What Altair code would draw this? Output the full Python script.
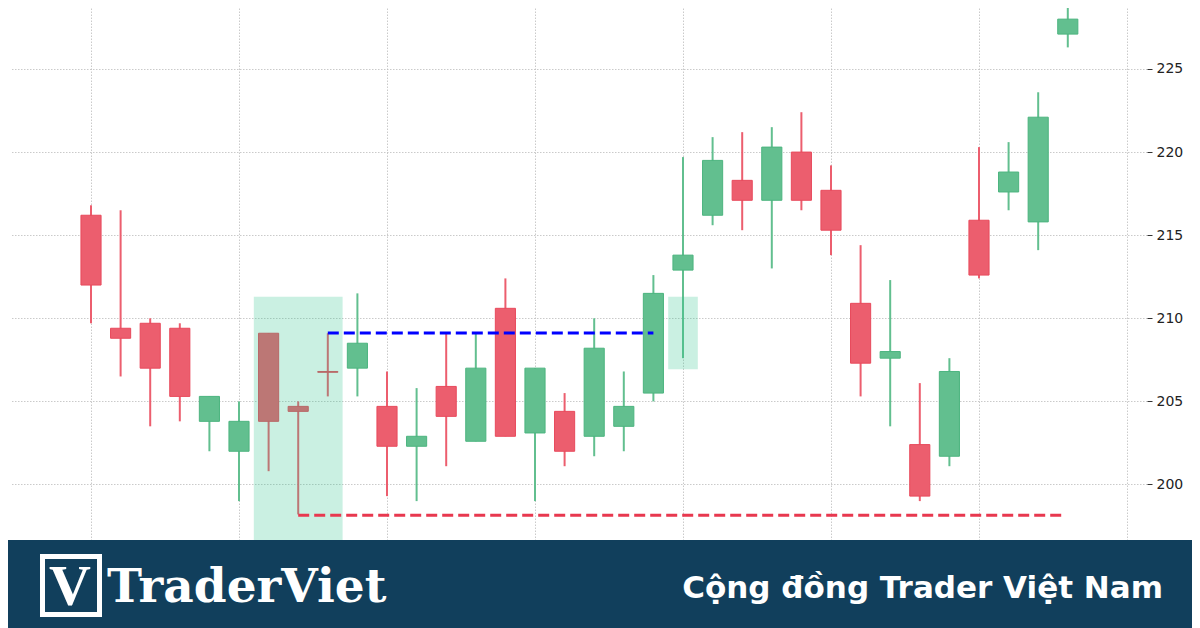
import altair as alt
import pandas as pd

# ---- data ----
idx = list(range(34))
opens = [216.2, 209.4, 209.7, 209.4, 203.8, 202.0, 209.1, 204.7, 206.8, 207.0,
         204.7, 202.3, 205.9, 202.6, 210.6, 203.1, 204.4, 202.9, 203.5, 205.5,
         212.9, 216.2, 218.3, 217.1, 220.0, 217.7, 210.9, 207.6, 202.4, 201.7,
         215.9, 217.6, 215.8, 227.1]
closes = [212.0, 208.8, 207.0, 205.3, 205.3, 203.8, 203.8, 204.4, 206.75, 208.5,
          202.3, 202.9, 204.1, 207.0, 202.9, 207.0, 202.0, 208.2, 204.7, 211.5,
          213.8, 219.5, 217.1, 220.3, 217.1, 215.3, 207.3, 208.0, 199.3, 206.8,
          212.6, 218.8, 222.1, 228.0]
highs = [216.8, 216.5, 210.0, 209.7, 205.3, 205.0, 209.1, 205.0, 209.1, 211.5,
         206.8, 205.8, 209.1, 209.1, 212.4, 207.0, 205.5, 210.0, 206.8, 212.6,
         219.7, 220.9, 221.2, 221.5, 222.4, 219.2, 214.4, 212.3, 206.1, 207.6,
         220.3, 220.6, 223.6, 229.5]
lows = [209.7, 206.5, 203.5, 203.8, 202.0, 199.0, 200.8, 198.2, 205.3, 205.3,
        199.3, 199.0, 201.1, 202.6, 202.9, 199.0, 201.1, 201.7, 202.0, 205.0,
        207.6, 215.6, 215.3, 213.0, 216.5, 213.8, 205.3, 203.5, 199.0, 201.1,
        212.4, 216.5, 214.1, 226.3]

# highlighted zones (candle-index span, price span)
zone_x0 = [5.5, 19.5]
zone_x1 = [8.5, 20.5]
zone_y0 = [196.66, 206.93]
zone_y1 = [211.3, 211.3]

# horizontal levels
res_start, res_end, res_price = [8], [19], [209.12]
sup_start, sup_end, sup_price = [7], [32.9], [198.15]

y_ticks = [200, 205, 210, 215, 220, 225]
x_grid = [0, 5, 10, 15, 20, 25, 30, 35]
brand = "TraderViet"
slogan = "Cộng đồng Trader Việt Nam"

# ---- tables ----
candles = pd.DataFrame({"i": idx, "open": opens, "close": closes,
                        "high": highs, "low": lows})
candles["dir"] = ["up" if c >= o else "down" for o, c in zip(opens, closes)]
zones = pd.DataFrame({"x0": zone_x0, "x1": zone_x1, "y0": zone_y0, "y1": zone_y1})
res = pd.DataFrame({"start": res_start, "end": res_end, "price": res_price})
sup = pd.DataFrame({"start": sup_start, "end": sup_end, "price": sup_price})

W, H = 1136, 532
xscale = alt.Scale(domain=[-2.703, 35.676], nice=False, zero=False)
yscale = alt.Scale(domain=[196.66, 228.67], nice=False, zero=False)
grid_kw = dict(grid=True, gridColor="#bdbdbd", gridDash=[1.5, 1.5], gridWidth=0.8)
xaxis = alt.Axis(values=x_grid, labels=False, ticks=False, domain=False,
                 title=None, **grid_kw)
yaxis = alt.Axis(orient="right", values=y_ticks, tickSize=5, tickColor="#333333",
                 tickWidth=1, labelFontSize=14, labelFont="DejaVu Sans",
                 labelColor="#222222", labelPadding=4, domain=False,
                 title=None, **grid_kw)

dir_fill = alt.Scale(domain=["up", "down"], range=["#62BF8F", "#EC5E6E"])
dir_stroke = alt.Scale(domain=["up", "down"], range=["#4CB47F", "#E84A5C"])

base = alt.Chart(candles)

wicks = base.mark_rule(strokeWidth=2, clip=True).encode(
    x=alt.X("i:Q", scale=xscale, axis=xaxis),
    y=alt.Y("low:Q", scale=yscale, axis=yaxis),
    y2="high:Q",
    color=alt.Color("dir:N", scale=dir_fill, legend=None),
)

bodies = base.transform_calculate(
    bx0="datum.i - 0.34", bx1="datum.i + 0.34"
).mark_rect(strokeWidth=1, clip=True).encode(
    x=alt.X("bx0:Q", scale=xscale, axis=xaxis),
    x2="bx1:Q",
    y=alt.Y("open:Q", scale=yscale, axis=yaxis),
    y2="close:Q",
    fill=alt.Fill("dir:N", scale=dir_fill, legend=None),
    stroke=alt.Stroke("dir:N", scale=dir_stroke, legend=None),
)

zone_layer = alt.Chart(zones).mark_rect(color="#2BC48A", opacity=0.25, clip=True).encode(
    x=alt.X("x0:Q", scale=xscale, axis=xaxis),
    x2="x1:Q",
    y=alt.Y("y0:Q", scale=yscale, axis=yaxis),
    y2="y1:Q",
)


def level(df, colour):
    return alt.Chart(df).mark_rule(strokeWidth=3, strokeDash=[11, 5], color=colour).encode(
        x=alt.X("start:Q", scale=xscale, axis=xaxis),
        x2="end:Q",
        y=alt.Y("price:Q", scale=yscale, axis=yaxis),
    )


res_layer = level(res, "#0000FF")
sup_layer = level(sup, "#E8384F")

one = pd.DataFrame({"brand": [brand], "slogan": [slogan], "v": ["V"]})

banner = alt.Chart(one).mark_rect(color="#113F5C").encode(
    x=alt.value(-3), x2=alt.value(1181), y=alt.value(532), y2=alt.value(620)
)
logo_box = alt.Chart(one).mark_rect(filled=False, stroke="white", strokeWidth=5).encode(
    x=alt.value(31.5), x2=alt.value(88.5), y=alt.value(548.5), y2=alt.value(606.5)
)
logo_v = alt.Chart(one).mark_text(
    font="Liberation Serif", fontWeight="bold", fontSize=58, color="white",
    align="center", baseline="alphabetic"
).encode(x=alt.value(59), y=alt.value(597), text="v:N")
brand_text = alt.Chart(one).mark_text(
    font="DejaVu Serif", fontWeight="bold", fontSize=47, color="white",
    align="left", baseline="alphabetic"
).encode(x=alt.value(96), y=alt.value(594), text="brand:N")
slogan_text = alt.Chart(one).mark_text(
    font="DejaVu Sans", fontWeight="bold", fontSize=31, color="white",
    align="right", baseline="alphabetic"
).encode(x=alt.value(1152), y=alt.value(590), text="slogan:N")

chart = alt.layer(
    wicks, bodies, zone_layer, res_layer, sup_layer,
    banner, logo_box, logo_v, brand_text, slogan_text
).properties(
    width=W, height=H,
    autosize=alt.AutoSizeParams(type="none"),
    padding={"left": 3, "top": 0, "right": 45, "bottom": 88},
    background="white",
).configure_view(stroke=None)

chart.save("out.html", embed_options={"renderer": "svg", "actions": False})
